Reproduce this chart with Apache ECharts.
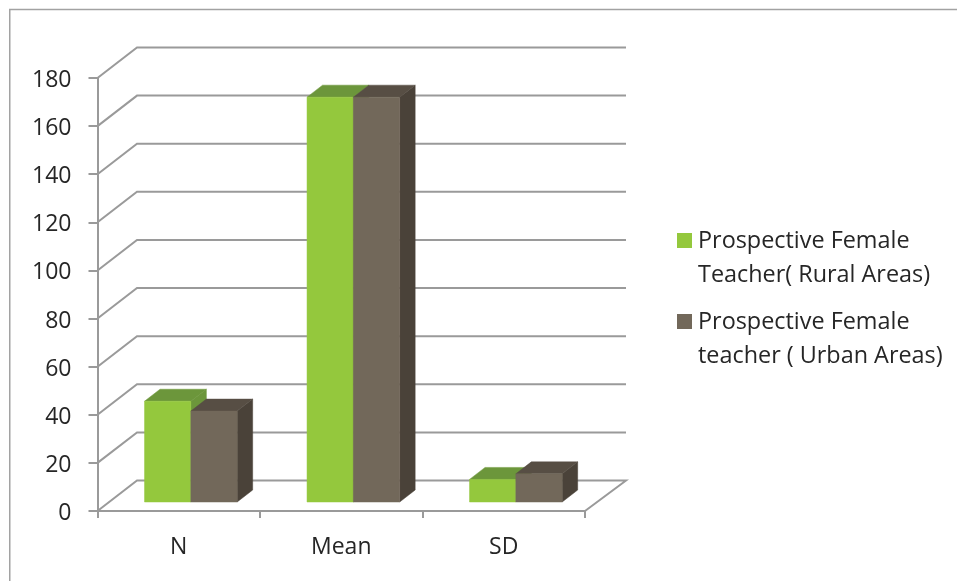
<!DOCTYPE html>
<html>
<head>
<meta charset="utf-8">
<style>html,body{margin:0;padding:0;background:#fff}#c{width:957px;height:581px}</style>
<script src="https://cdn.jsdelivr.net/npm/echarts@6/dist/echarts.min.js"></script>
</head>
<body>
<div id="c"></div>
<script>
var categories = ['N', 'Mean', 'SD'];
var ruralValues = [42.1, 168.5, 9.6];
var urbanValues = [38, 168.5, 11.9];
var yTicks = [0, 20, 40, 60, 80, 100, 120, 140, 160, 180];
var ruralName = 'Prospective Female\nTeacher( Rural Areas)';
var urbanName = 'Prospective Female\nteacher ( Urban Areas)';

var FONT = 'Open Sans';
var TEXT = '#262626';
var LINE = '#9a9a9a';
var WALL_DX = 39.5, WALL_DY = -30.5;
var BAR_DX = 15.5, BAR_DY = -12;
var BASE_SHIFT_Y = -9;

function poly(points, fill) {
  return { type: 'polygon', shape: { points: points }, style: { fill: fill, stroke: fill, lineWidth: 0.5 } };
}
function barRenderer(side, front, top, dark) {
  return function (params, api) {
    var band = api.size([1, 0])[0];
    var w = band * 0.285;
    var c = api.coord([api.value(0), api.value(1)]);
    var b = api.coord([api.value(0), 0]);
    var cx = c[0] + 12.1;
    var x0 = side === 0 ? cx - w : cx;
    var x1 = x0 + w;
    var yt = c[1] + BASE_SHIFT_Y + 0.5;
    var yb = b[1] + BASE_SHIFT_Y;
    return {
      type: 'group',
      children: [
        poly([[x1, yb], [x1 + BAR_DX, yb + BAR_DY], [x1 + BAR_DX, yt + BAR_DY], [x1, yt]], dark),
        poly([[x0, yt], [x0 + BAR_DX, yt + BAR_DY], [x1 + BAR_DX, yt + BAR_DY], [x1, yt]], top),
        poly([[x0, yb], [x1, yb], [x1, yt], [x0, yt]], front)
      ]
    };
  };
}
function wallRenderer(params, api) {
  var v = api.value(1);
  var p = api.coord([0, v]);
  var rect = params.coordSys;
  var x = rect.x, r = rect.x + rect.width, y = p[1];
  var pts = [[x, y], [x + WALL_DX, y + WALL_DY], [r + WALL_DX + 1.5, y + WALL_DY]];
  if (v === 0) pts.push([r, y]);
  return { type: 'polyline', shape: { points: pts }, style: { fill: null, stroke: LINE, lineWidth: 2 } };
}

var chart = echarts.init(document.getElementById('c'), null, { renderer: 'canvas' });
chart.setOption({
  animation: false,
  backgroundColor: '#fff',
  textStyle: { fontFamily: FONT },
  graphic: [{ type: 'rect', shape: { x: 9.75, y: 9.5, width: 1000, height: 700 }, style: { fill: null, stroke: '#a2a2a2', lineWidth: 1.5 }, silent: true, z: 0 }],
  grid: { left: 97.5, top: 78, width: 487.5, height: 433, containLabel: false },
  legend: {
    orient: 'vertical', left: 677, top: 224, padding: 0,
    data: [ruralName, urbanName],
    itemWidth: 15, itemHeight: 50, itemGap: 13, selectedMode: false,
    icon: 'path://M0,0H15V15H0Z M0,50L0.01,50Z',
    textStyle: { fontFamily: FONT, fontSize: 23.4, lineHeight: 34, color: TEXT, padding: [0, 0, 0, 1] }
  },
  xAxis: {
    type: 'category', data: categories,
    axisLine: { lineStyle: { color: LINE, width: 2 } },
    axisTick: { show: true, length: 7, alignWithLabel: false, lineStyle: { color: LINE, width: 2 } },
    axisLabel: { fontFamily: FONT, fontSize: 23, color: TEXT, margin: 25 }
  },
  yAxis: {
    type: 'value', min: 0, max: 180, interval: 20,
    axisLine: { show: true, lineStyle: { color: LINE, width: 2 } },
    axisTick: { show: true, length: 9, lineStyle: { color: LINE, width: 2 } },
    axisLabel: {
      color: TEXT, margin: 26, formatter: '{t|{value}}',
      rich: { t: { fontFamily: FONT, fontSize: 23, color: TEXT, padding: [5, 0, 0, 0] } }
    },
    splitLine: { show: false }
  },
  series: [
    { type: 'custom', name: 'wall', z: 1, silent: true, renderItem: wallRenderer, data: yTicks.map(function (v) { return [0, v]; }) },
    { type: 'custom', name: ruralName, z: 2, itemStyle: { color: '#94c83d' },
      renderItem: barRenderer(0, '#94c83d', '#6c963b', '#6c963b'),
      encode: { x: 0, y: 1 },
      data: ruralValues.map(function (v, i) { return [i, v]; }) },
    { type: 'custom', name: urbanName, z: 3, itemStyle: { color: '#72685a' },
      renderItem: barRenderer(1, '#72685a', '#574e44', '#4a4239'),
      encode: { x: 0, y: 1 },
      data: urbanValues.map(function (v, i) { return [i, v]; }) }
  ]
});
</script>
</body>
</html>
